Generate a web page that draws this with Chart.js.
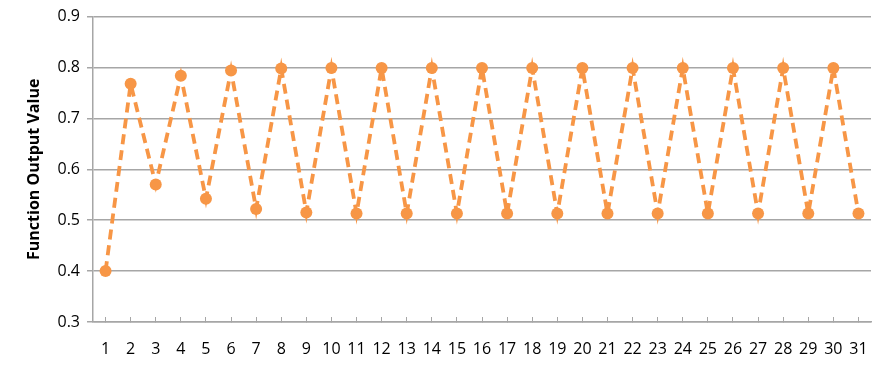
<!DOCTYPE html>
<html>
<head>
<meta charset="utf-8">
<script src="https://cdn.jsdelivr.net/npm/chart.js@4"></script>
<style>
  html, body { margin: 0; padding: 0; background: #fff; }
  #wrap { width: 888px; height: 370px; }
</style>
</head>
<body>
<div id="wrap"><canvas id="outputChart"></canvas></div>
<script>
// iteration number on the x axis
const iterations = ['1','2','3','4','5','6','7','8','9','10','11','12','13','14','15','16',
  '17','18','19','20','21','22','23','24','25','26','27','28','29','30','31'];

// values
const outputValues = [0.400, 0.768, 0.570, 0.784, 0.542, 0.794, 0.522, 0.798, 0.515, 0.799,
  0.513, 0.799, 0.513, 0.799, 0.513, 0.799, 0.513, 0.799, 0.513, 0.799,
  0.513, 0.799, 0.513, 0.799, 0.513, 0.799, 0.513, 0.799, 0.513, 0.799, 0.513];

const yTicks = [0.3, 0.4, 0.5, 0.6, 0.7, 0.8, 0.9];

const orange = '#F79646';
const gray = '#A6A6A6';

const ctx = document.getElementById('outputChart').getContext('2d');
new Chart(ctx, {
    type: 'line',
    data: {
        labels: iterations,
        datasets: [{
            label: 'Function Output Value',
            data: outputValues,
            borderColor: orange,
            backgroundColor: orange,
            borderWidth: 3.8,
            borderDash: [10, 6],
            tension: 0,
            pointRadius: 6,
            pointBackgroundColor: orange,
            pointBorderWidth: 0
        }]
    },
    options: {
        responsive: true,
        maintainAspectRatio: false,
        animation: false,
        layout: {
            padding: { top: 13, right: 17, bottom: 0, left: 25 }
        },
        scales: {
            x: {
                offset: true,
                afterFit: function (scale) {
                    scale.height = 48;
                    // labels sit inside the offset, no extra side padding needed
                    scale.paddingLeft = 0;
                    scale.paddingRight = 0;
                },
                grid: {
                    offset: false,
                    drawOnChartArea: false,
                    color: gray,
                    lineWidth: 1,
                    tickLength: -5
                },
                border: { color: gray, width: 1.5 },
                ticks: {
                    color: '#000',
                    font: { family: 'Open Sans', size: 16 },
                    padding: 23,
                    maxRotation: 0,
                    autoSkip: false
                }
            },
            y: {
                min: 0.3,
                max: 0.9,
                afterBuildTicks: function (scale) {
                    scale.ticks = yTicks.map(v => ({ value: v }));
                },
                afterFit: function (scale) {
                    scale.width = 68;
                },
                grid: {
                    color: gray,
                    lineWidth: 1.5,
                    tickLength: 6
                },
                border: { color: gray, width: 1.5 },
                ticks: {
                    color: '#000',
                    font: { family: 'Open Sans', size: 16 },
                    padding: 7,
                    callback: v => v.toFixed(1)
                },
                title: {
                    display: true,
                    text: 'Function Output Value',
                    color: '#000',
                    font: { family: 'Open Sans', size: 16, weight: 'bold' },
                    padding: { top: 0, bottom: 0 }
                }
            }
        },
        plugins: {
            legend: { display: false },
            title: { display: false },
            tooltip: { enabled: false }
        }
    }
});
</script>
</body>
</html>
